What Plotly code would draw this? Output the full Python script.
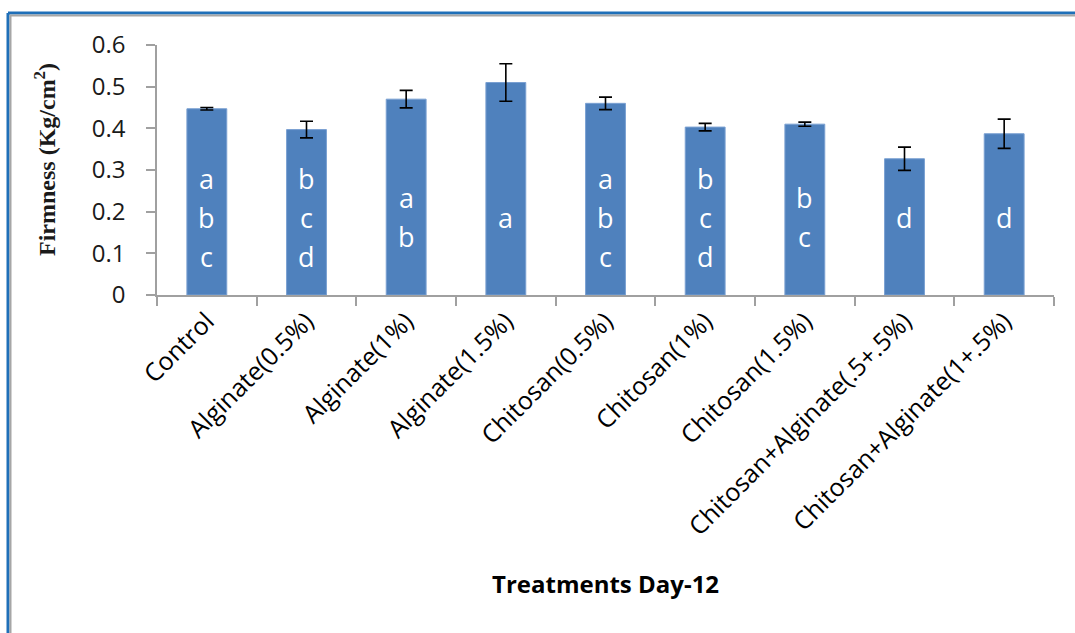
import plotly.graph_objects as go

# Firmness of samples at day 12, by coating treatment
treatments = [
    "Control", "Alginate(0.5%)", "Alginate(1%)", "Alginate(1.5%)",
    "Chitosan(0.5%)", "Chitosan(1%)", "Chitosan(1.5%)",
    "Chitosan+Alginate(.5+.5%)", "Chitosan+Alginate(1+.5%)",
]
firmness = [0.447, 0.397, 0.470, 0.510, 0.460, 0.403, 0.410, 0.327, 0.387]
std_err = [0.003, 0.020, 0.021, 0.045, 0.015, 0.009, 0.005, 0.028, 0.035]
groups = ["abc", "bcd", "ab", "a", "abc", "bcd", "bc", "d", "d"]

y_ticks = [0, 0.1, 0.2, 0.3, 0.4, 0.5, 0.6]
y_tick_text = ["0", "0.1", "0.2", "0.3", "0.4", "0.5", "0.6"]

W, H = 1075, 633
ML, MR, MT, MB = 157, 21, 45, 338
PW, PH = W - ML - MR, H - MT - MB


def px_x(px):
    return (px - ML) / PW


def px_y(py):
    return (H - MB - py) / PH


AXIS_GREY = "#a0a0a0"
FONT = "Open Sans"

fig = go.Figure(
    go.Bar(
        x=treatments,
        y=firmness,
        marker=dict(color="#4f81bd", line=dict(color="#7aa0d2", width=1)),
        error_y=dict(type="data", array=std_err, visible=True,
                     color="black", thickness=1.6, width=6.5),
        width=0.4,
        hoverinfo="x+y",
    )
)

# significance letters stacked inside each bar
LETTER_CENTER = 0.187
LINE_STEP = 39
annotations = []
for name, letters in zip(treatments, groups):
    n = len(letters)
    for k, ch in enumerate(letters):
        annotations.append(dict(
            x=name, y=LETTER_CENTER, xref="x", yref="y",
            text=ch, showarrow=False,
            yshift=((n - 1) / 2 - k) * LINE_STEP,
            font=dict(family=FONT, size=27, color="white"),
        ))

# axis titles
annotations.append(dict(
    x=px_x(45), y=px_y(160), xref="paper", yref="paper",
    xanchor="center", yanchor="middle",
    text="<b>Firmness (Kg/cm<sup>2</sup>)</b>", textangle=-90, showarrow=False,
    font=dict(family="Liberation Serif", size=24, color="#1a1a1a"),
))
annotations.append(dict(
    x=px_x(605), y=px_y(583), xref="paper", yref="paper",
    xanchor="center", yanchor="middle",
    text="<b>Treatments Day-12</b>", showarrow=False,
    font=dict(family=FONT, size=24, color="black"),
))

# frame on the left and top edges
shapes = [
    dict(type="line", xref="paper", yref="paper",
         x0=px_x(8), x1=px_x(W + 5), y0=px_y(13), y1=px_y(13),
         line=dict(color="#1f6fb8", width=3)),
    dict(type="line", xref="paper", yref="paper",
         x0=px_x(10), x1=px_x(W + 5), y0=px_y(15.5), y1=px_y(15.5),
         line=dict(color="#a6a6a6", width=2)),
    dict(type="line", xref="paper", yref="paper",
         x0=px_x(8), x1=px_x(8), y0=px_y(13), y1=px_y(H + 5),
         line=dict(color="#1f6fb8", width=3)),
    dict(type="line", xref="paper", yref="paper",
         x0=px_x(10.5), x1=px_x(10.5), y0=px_y(15), y1=px_y(H + 5),
         line=dict(color="#a6a6a6", width=2)),
]

fig.update_layout(
    width=W, height=H,
    margin=dict(l=ML, r=MR, t=MT, b=MB),
    paper_bgcolor="white", plot_bgcolor="white",
    showlegend=False,
    annotations=annotations,
    shapes=shapes,
    bargap=0.6,
)
fig.update_xaxes(
    type="category",
    showline=True, linecolor=AXIS_GREY, linewidth=1.5,
    ticks="outside", tickson="boundaries", ticklen=9,
    tickcolor=AXIS_GREY, tickwidth=1.5,
    tickangle=-45,
    tickfont=dict(family=FONT, size=25, color="black"),
    showgrid=False, zeroline=False,
)
fig.update_yaxes(
    range=[0, 0.6],
    tickvals=y_ticks, ticktext=y_tick_text,
    showline=True, linecolor=AXIS_GREY, linewidth=1.5,
    ticks="outside", ticklen=9, tickcolor=AXIS_GREY, tickwidth=1.5,
    ticklabelstandoff=16,
    tickfont=dict(family=FONT, size=24, color="#1a1a1a"),
    showgrid=False, zeroline=False,
)

fig.write_html("out.html")
